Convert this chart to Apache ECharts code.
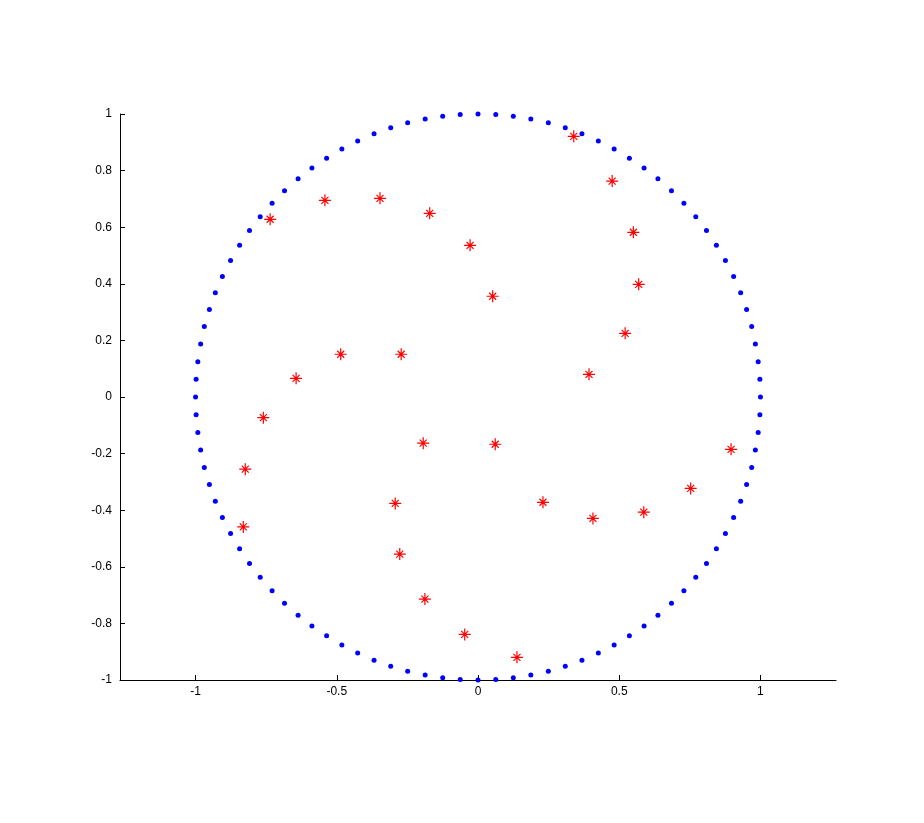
<!DOCTYPE html>
<html>
<head>
<meta charset="utf-8">
<script src="https://cdn.jsdelivr.net/npm/echarts@6/dist/echarts.min.js"></script>
<style>
html,body{margin:0;padding:0;background:#fff;}
#chart{width:924px;height:823px;}
</style>
</head>
<body>
<div id="chart"></div>
<script>
// Blue unit-circle sample points
const circleX = [1.000,0.998,0.992,0.982,0.969,0.951,0.930,0.905,0.876,0.844,0.809,0.771,0.729,0.685,0.637,0.588,0.536,0.482,0.426,0.368,0.309,0.249,0.187,0.125,0.063,0.000,
 -0.063,-0.125,-0.187,-0.249,-0.309,-0.368,-0.426,-0.482,-0.536,-0.588,-0.637,-0.685,-0.729,-0.771,-0.809,-0.844,-0.876,-0.905,-0.930,-0.951,-0.969,-0.982,-0.992,-0.998,-1.000,
 -0.998,-0.992,-0.982,-0.969,-0.951,-0.930,-0.905,-0.876,-0.844,-0.809,-0.771,-0.729,-0.685,-0.637,-0.588,-0.536,-0.482,-0.426,-0.368,-0.309,-0.249,-0.187,-0.125,-0.063,0.000,
 0.063,0.125,0.187,0.249,0.309,0.368,0.426,0.482,0.536,0.588,0.637,0.685,0.729,0.771,0.809,0.844,0.876,0.905,0.930,0.951,0.969,0.982,0.992,0.998];
const circleY = [0.000,0.063,0.125,0.187,0.249,0.309,0.368,0.426,0.482,0.536,0.588,0.637,0.685,0.729,0.771,0.809,0.844,0.876,0.905,0.930,0.951,0.969,0.982,0.992,0.998,1.000,
 0.998,0.992,0.982,0.969,0.951,0.930,0.905,0.876,0.844,0.809,0.771,0.729,0.685,0.637,0.588,0.536,0.482,0.426,0.368,0.309,0.249,0.187,0.125,0.063,0.000,
 -0.063,-0.125,-0.187,-0.249,-0.309,-0.368,-0.426,-0.482,-0.536,-0.588,-0.637,-0.685,-0.729,-0.771,-0.809,-0.844,-0.876,-0.905,-0.930,-0.951,-0.969,-0.982,-0.992,-0.998,-1.000,
 -0.998,-0.992,-0.982,-0.969,-0.951,-0.930,-0.905,-0.876,-0.844,-0.809,-0.771,-0.729,-0.685,-0.637,-0.588,-0.536,-0.482,-0.426,-0.368,-0.309,-0.249,-0.187,-0.125,-0.063];

// Red star points
const starX = [-0.542,-0.347,-0.171,-0.736,-0.028,-0.486,-0.272,-0.644,-0.760,0.339,0.475,0.550,0.569,0.052,0.521,0.393,-0.194,-0.824,-0.293,-0.831,-0.277,-0.188,-0.047,0.061,0.896,0.753,0.230,0.407,0.587,0.138];
const starY = [0.695,0.702,0.649,0.628,0.536,0.151,0.151,0.066,-0.073,0.921,0.763,0.582,0.398,0.356,0.225,0.080,-0.163,-0.255,-0.376,-0.459,-0.555,-0.714,-0.839,-0.167,-0.185,-0.323,-0.372,-0.429,-0.407,-0.920];

// Tick labels
const xTicks = [-1,-0.5,0,0.5,1];
const yTicks = [-1,-0.8,-0.6,-0.4,-0.2,0,0.2,0.4,0.6,0.8,1];

const circleData = circleX.map((x,i)=>[x,circleY[i]]);
const starData = starX.map((x,i)=>[x,starY[i]]);

const font = '"Liberation Sans", Arial, Helvetica, sans-serif';
const chart = echarts.init(document.getElementById('chart'), null, {renderer:'canvas'});
chart.setOption({
  animation:false,
  backgroundColor:'#ffffff',
  grid:{left:120,right:88,top:114,bottom:143,containLabel:false},
  xAxis:{
    type:'value',min:-1.2675,max:1.2675,
    axisLine:{show:true,onZero:false,lineStyle:{color:'#000',width:1}},
    axisTick:{show:true,inside:true,length:5,lineStyle:{color:'#000'},customValues:xTicks},
    axisLabel:{show:true,color:'#000',fontSize:12,fontFamily:font,margin:6,customValues:xTicks,formatter:v=>String(v)},
    splitLine:{show:false}
  },
  yAxis:{
    type:'value',min:-1,max:1,
    axisLine:{show:true,onZero:false,lineStyle:{color:'#000',width:1}},
    axisTick:{show:true,inside:true,length:5,lineStyle:{color:'#000'},customValues:yTicks},
    axisLabel:{show:true,color:'#000',fontSize:12,fontFamily:font,margin:8,customValues:yTicks,formatter:v=>String(v)},
    splitLine:{show:false}
  },
  series:[
    {
      type:'scatter',data:circleData,symbol:'circle',symbolSize:5,
      itemStyle:{color:'#0000ff',opacity:1},silent:true
    },
    {
      type:'scatter',data:starData,
      symbol:'path://M0,6L12,6M6,0L6,12M2.5,2.5L9.5,9.5M9.5,2.5L2.5,9.5',
      symbolSize:12,
      itemStyle:{color:'rgba(0,0,0,0)',borderColor:'#ff0000',borderWidth:1.2,opacity:1},silent:true
    }
  ]
});
</script>
</body>
</html>
